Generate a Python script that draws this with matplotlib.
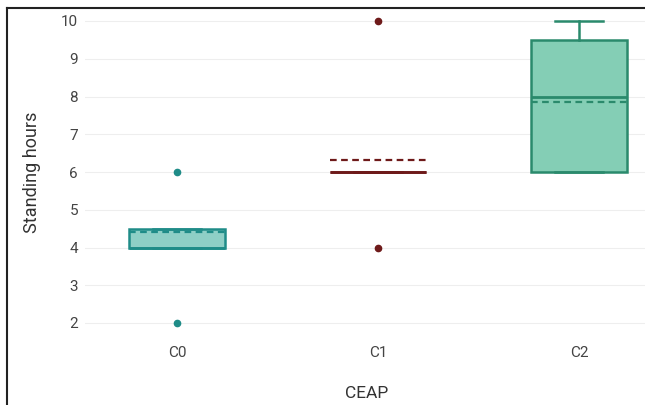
import matplotlib
matplotlib.use("Agg")
import matplotlib.pyplot as plt
from matplotlib.lines import Line2D

categories = ["C0", "C1", "C2"]
q1 = [4.0, 6.0, 6.0]
medians = [4.0, 6.0, 8.0]
q3 = [4.5, 6.0, 9.5]
whislo = [4.0, 6.0, 6.0]
whishi = [4.5, 6.0, 10.0]
means = [4.41, 6.32, 7.85]
fliers = [[6.0, 2.0], [10.0, 4.0], []]

line_colors = ["#1f8c88", "#6e1a1a", "#2a8a6c"]
fill_colors = ["#8ecfc6", "#c98a8a", "#84ceb5"]

plt.rcParams['font.family'] = ['Roboto', 'DejaVu Sans']

fig = plt.figure(figsize=(6.45, 4.05), dpi=100)
W, H = 645, 405
ax = fig.add_axes([85 / W, 1 - 340 / H, (645 - 85) / W, (340 - 10) / H])

for i, cat in enumerate(categories):
    stats = [dict(label=cat, q1=q1[i], med=medians[i], q3=q3[i],
                  whislo=whislo[i], whishi=whishi[i], mean=means[i],
                  fliers=fliers[i])]
    c = line_colors[i]
    ax.bxp(stats, positions=[i], widths=0.48, capwidths=0.24,
           patch_artist=True, showmeans=True, meanline=True,
           boxprops=dict(facecolor=fill_colors[i], edgecolor=c, linewidth=1.8),
           medianprops=dict(color=c, linewidth=2.0),
           meanprops=dict(color=c, linestyle=(0, (3, 2)), linewidth=1.6),
           whiskerprops=dict(color=c, linewidth=1.8),
           capprops=dict(color=c, linewidth=1.8),
           flierprops=dict(marker='o', markerfacecolor=c, markeredgecolor=c,
                           markersize=4.5))

ax.set_xlim(-0.458, 2.328)
# y pixel of value v: 21 + (10 - v) * 37.75
ax.set_ylim(2 - (340 - 323) / 37.75, 10 + (21 - 10) / 37.75)
ax.set_yticks(range(2, 11))
ax.set_xticks(range(len(categories)))
ax.set_xticklabels(categories)
ax.grid(axis='y', color='#eeeeee', linewidth=0.8)
ax.set_axisbelow(True)
for s in ax.spines.values():
    s.set_visible(False)
ax.tick_params(axis='both', length=0, labelsize=11, labelcolor='#444444')
ax.tick_params(axis='y', pad=5)
ax.tick_params(axis='x', pad=4)

fig.text(32 / W, 1 - 172 / H, "Standing hours", rotation=90, ha='center', va='center',
         fontsize=13, color='#333333')
fig.text(367 / W, 1 - 394 / H, "CEAP", ha='center', va='center',
         fontsize=12.5, color='#333333')

# frame lines (left and top)
fig.add_artist(Line2D([7 / W, 7 / W], [0, 1 - 8 / H], transform=fig.transFigure,
                      color='#222222', linewidth=1.5))
fig.add_artist(Line2D([7 / W, 1], [1 - 8 / H, 1 - 8 / H], transform=fig.transFigure,
                      color='#222222', linewidth=1.5))

fig.savefig("out.png", dpi=100)
